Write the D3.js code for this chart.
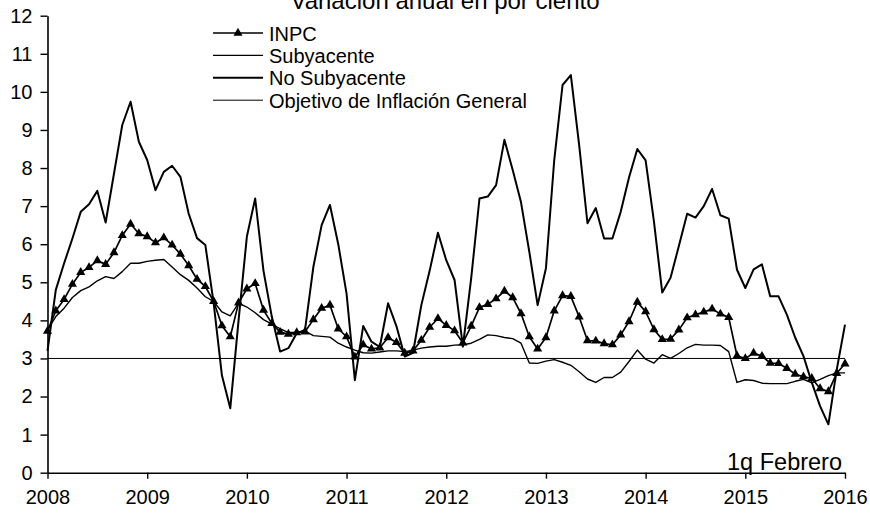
<!DOCTYPE html>
<html>
<head>
<meta charset="utf-8">
<script src="https://cdn.jsdelivr.net/npm/d3@7/dist/d3.min.js"></script>
<style>
body { margin: 0; background: #fff; }
svg text { font-family: "Liberation Sans", Arial, sans-serif; fill: #000; }
</style>
</head>
<body>
<div id="plot"></div>
<script>
// Variacion anual en por ciento, monthly from Feb 2008 to Jan 2016 + 1q Feb 2016
const years = ["2008", "2009", "2010", "2011", "2012", "2013", "2014", "2015", "2016"];
const seriesNames = ["INPC", "Subyacente", "No Subyacente", "Objetivo de Inflación General"];

const inpc = [
	3.72, 4.25, 4.55, 4.95, 5.26, 5.39, 5.57, 5.47, 5.78, 6.23, 6.53,
	6.28, 6.20, 6.04, 6.17, 5.98, 5.74, 5.44, 5.08, 4.89, 4.50, 3.86, 3.57,
	4.46, 4.83, 4.97, 4.27, 3.92, 3.69, 3.64, 3.68, 3.70, 4.02, 4.32, 4.40,
	3.78, 3.57, 3.04, 3.36, 3.25, 3.28, 3.55, 3.42, 3.14, 3.20, 3.48, 3.82,
	4.05, 3.87, 3.73, 3.41, 3.85, 4.34, 4.42, 4.57, 4.77, 4.60, 4.18, 3.57,
	3.25, 3.55, 4.25, 4.65, 4.63, 4.09, 3.47, 3.46, 3.39, 3.36, 3.62, 3.97,
	4.48, 4.23, 3.76, 3.50, 3.51, 3.75, 4.07, 4.15, 4.22, 4.30, 4.17, 4.08,
	3.07, 3.00, 3.14, 3.06, 2.88, 2.87, 2.74, 2.59, 2.52, 2.48, 2.21, 2.13,
	2.61, 2.86
];

const subyacente = [
	3.75, 4.10, 4.32, 4.60, 4.78, 4.88, 5.04, 5.15, 5.10, 5.28, 5.50,
	5.50, 5.55, 5.58, 5.60, 5.40, 5.20, 5.05, 4.85, 4.62, 4.50, 4.22, 4.12,
	4.45, 4.35, 4.20, 4.02, 3.90, 3.78, 3.68, 3.68, 3.72, 3.60, 3.58, 3.56,
	3.40, 3.30, 3.22, 3.15, 3.14, 3.17, 3.20, 3.20, 3.18, 3.22, 3.27, 3.30,
	3.32, 3.32, 3.35, 3.36, 3.40, 3.50, 3.62, 3.60, 3.55, 3.52, 3.40, 2.88,
	2.87, 2.93, 2.97, 2.90, 2.82, 2.65, 2.46, 2.37, 2.50, 2.50, 2.64, 2.92,
	3.22, 2.98, 2.88, 3.10, 3.00, 3.13, 3.28, 3.37, 3.35, 3.35, 3.34, 3.18,
	2.37, 2.44, 2.42, 2.35, 2.34, 2.34, 2.34, 2.40, 2.45, 2.36, 2.45, 2.55,
	2.62, 2.62
];

const noSubyacente = [
	3.20, 4.80, 5.50, 6.15, 6.85, 7.05, 7.40, 6.57, 7.85, 9.13, 9.74,
	8.69, 8.21, 7.42, 7.90, 8.06, 7.77, 6.80, 6.16, 5.98, 4.45, 2.55, 1.69,
	4.00, 6.20, 7.20, 5.30, 4.10, 3.18, 3.27, 3.66, 3.75, 5.40, 6.50, 7.03,
	6.00, 4.70, 2.43, 3.85, 3.44, 3.30, 4.45, 3.85, 3.05, 3.15, 4.40, 5.30,
	6.30, 5.58, 5.06, 3.31, 5.10, 7.20, 7.25, 7.55, 8.74, 7.95, 7.10, 5.80,
	4.40, 5.37, 8.21, 10.18, 10.44, 8.60, 6.55, 6.95, 6.15, 6.15, 6.85, 7.75,
	8.50, 8.20, 6.60, 4.73, 5.12, 5.95, 6.80, 6.70, 7.00, 7.45, 6.76, 6.67,
	5.33, 4.85, 5.34, 5.47, 4.63, 4.63, 4.15, 3.55, 3.06, 2.37, 1.75, 1.27,
	2.70, 3.89
];

const objetivo = 3;
const yTicks = [0, 1, 2, 3, 4, 5, 6, 7, 8, 9, 10, 11, 12];
const title = "Variación anual en por ciento";
const lastLabel = "1q Febrero";

let width = 870, height = 513;

let x = d3.scaleLinear().domain([0, inpc.length - 1]).range([47.5, 845]);
let y = d3.scaleLinear().domain([0, 12]).range([472.7, 15.7]);

let svg = d3.select("#plot").append("svg")
	.attr("width", width).attr("height", height)
	.style("background", "#fff");

function drawAxes() {
	let yAxis = d3.axisLeft(y).tickValues(yTicks).tickSize(7).tickSizeOuter(0).tickPadding(8);
	let gy = svg.append("g").attr("transform", "translate(" + x(0) + ",0)").call(yAxis);
	gy.selectAll("text").style("font-size", "20px");

	let xAxis = d3.axisBottom(x)
		.tickValues(years.map((d, i) => i * 12))
		.tickFormat((d, i) => years[i])
		.tickSize(6).tickSizeOuter(0).tickPadding(11.5);
	let gx = svg.append("g").attr("transform", "translate(0," + y(0) + ")").call(xAxis);
	gx.selectAll("text").style("font-size", "20px");

	svg.selectAll(".domain").attr("stroke", "#000").attr("stroke-width", 1.6);
	svg.selectAll(".tick line").attr("stroke", "#000").attr("stroke-width", 1.4);
}

function drawSeries() {
	let line = d3.line().x((d, i) => x(i)).y(d => y(d));

	// objetivo: flat line at 3%
	svg.append("line")
		.attr("x1", x(0)).attr("x2", x(inpc.length - 1))
		.attr("y1", y(objetivo)).attr("y2", y(objetivo))
		.attr("stroke", "#000").attr("stroke-width", 1);

	svg.append("path").datum(subyacente).attr("d", line)
		.attr("fill", "none").attr("stroke", "#000").attr("stroke-width", 1.4)
		.attr("stroke-linejoin", "round");

	svg.append("path").datum(noSubyacente).attr("d", line)
		.attr("fill", "none").attr("stroke", "#000").attr("stroke-width", 2)
		.attr("stroke-linejoin", "round");

	svg.append("path").datum(inpc).attr("d", line)
		.attr("fill", "none").attr("stroke", "#000").attr("stroke-width", 1.7)
		.attr("stroke-linejoin", "round");

	svg.append("g").selectAll("path").data(inpc).enter().append("path")
		.attr("d", d3.symbol(d3.symbolTriangle, 36))
		.attr("transform", (d, i) => "translate(" + x(i) + "," + y(d) + ")")
		.attr("fill", "#000");
}

function drawLegend() {
	let lg = svg.append("g").attr("transform", "translate(213,33)");
	let widths = [1.7, 1.4, 2, 1];

	seriesNames.forEach((name, i) => {
		let row = lg.append("g").attr("transform", "translate(0," + (i * 22.4) + ")");
		row.append("line").attr("x1", 0).attr("x2", 50).attr("y1", 0).attr("y2", 0)
			.attr("stroke", "#000").attr("stroke-width", widths[i]);
		if (i == 0) {
			row.append("path").attr("d", d3.symbol(d3.symbolTriangle, 36))
				.attr("transform", "translate(25,0)").attr("fill", "#000");
		}
		row.append("text").attr("x", 56).attr("y", 7.5)
			.style("font-size", "20px").text(name);
	});
}

function drawTexts() {
	// title is mostly cropped off at the top edge, as in the source
	svg.append("text").attr("x", 445).attr("y", 9)
		.attr("text-anchor", "middle").style("font-size", "24px").text(title);

	svg.append("text").attr("x", 842).attr("y", 470)
		.attr("text-anchor", "end").style("font-size", "23.5px").text(lastLabel);
}

drawSeries();
drawAxes();
drawLegend();
drawTexts();
</script>
</body>
</html>
